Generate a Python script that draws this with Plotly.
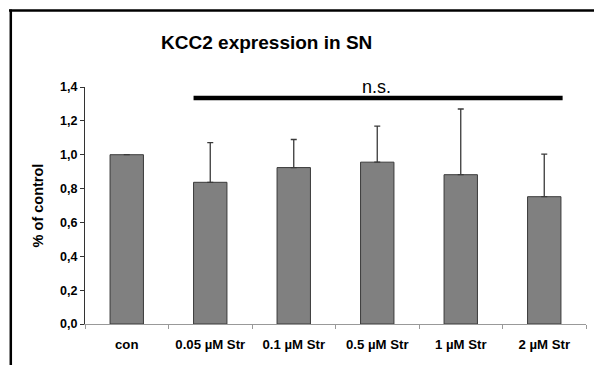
import plotly.graph_objects as go

categories = ["con", "0.05 µM Str", "0.1 µM Str", "0.5 µM Str", "1 µM Str", "2 µM Str"]
means = [1.0, 0.837, 0.924, 0.956, 0.882, 0.752]
err_plus = [0.0, 0.235, 0.166, 0.213, 0.388, 0.251]
err_minus = [0, 0, 0, 0, 0, 0]
y_ticks = [0.0, 0.2, 0.4, 0.6, 0.8, 1.0, 1.2, 1.4]
title_text = "KCC2 expression in SN"
sig_label = "n.s."
sig_level = 1.335
sig_from = 0.8
sig_to = 5.22

FONT = "Arial, Liberation Sans, sans-serif"

fig = go.Figure()
fig.add_trace(go.Bar(
    x=categories, y=means, width=0.4,
    marker=dict(color="#808080", line=dict(color="#3a3a3a", width=1)),
    error_y=dict(type="data", symmetric=False, array=err_plus, arrayminus=err_minus,
                 color="#3a3a3a", thickness=1.3, width=3),
    showlegend=False,
))

L, R, T, B = 85, 8, 87, 41
W, H = 594, 365
pw, ph = W - L - R, H - T - B

def px_x(p):
    return (p - L) / pw

def px_y(p):
    return (H - B - p) / ph

shapes = [
    dict(type="line", xref="paper", yref="paper", x0=px_x(9), x1=px_x(600),
         y0=px_y(10.5), y1=px_y(10.5), line=dict(color="black", width=2.5)),
    dict(type="line", xref="paper", yref="paper", x0=px_x(10.8), x1=px_x(10.8),
         y0=px_y(9.5), y1=px_y(370), line=dict(color="black", width=2.5)),
    dict(type="line", xref="x", yref="y", x0=sig_from, x1=sig_to,
         y0=sig_level, y1=sig_level, line=dict(color="black", width=4.5)),
]

fig.update_layout(
    width=W, height=H,
    margin=dict(l=L, r=R, t=T, b=B),
    paper_bgcolor="white", plot_bgcolor="white",
    separators=",.",
    font=dict(family=FONT, color="black"),
    title=dict(text=title_text, x=266.7 / W, xref="container", xanchor="center",
               y=1 - 42 / H, yref="container", yanchor="middle",
               font=dict(family=FONT, size=19, weight="bold", color="black")),
    shapes=shapes,
    annotations=[dict(text=sig_label, x=(sig_from + sig_to) / 2 - 0.02, y=sig_level,
                      xref="x", yref="y", xanchor="center", yanchor="bottom",
                      showarrow=False, yshift=-1,
                      font=dict(family=FONT, size=18, color="black"))],
    bargap=0.6,
)

fig.update_xaxes(
    type="category", showline=True, linecolor="#999999", linewidth=1.3,
    ticks="outside", ticklen=4, tickcolor="#999999", tickson="boundaries",
    tickfont=dict(family=FONT, size=13.2, weight="bold", color="black"),
    ticklabelstandoff=8, showgrid=False, zeroline=False, automargin=False,
)
fig.update_yaxes(
    range=[0, 1.4], tickvals=y_ticks, tickformat=".1f",
    showline=True, linecolor="#333333", linewidth=1,
    ticks="outside", ticklen=4, tickcolor="#333333",
    tickfont=dict(family=FONT, size=12.5, weight="bold", color="black"),
    showgrid=False, zeroline=False, automargin=False,
    title=dict(text="% of control", standoff=13,
               font=dict(family=FONT, size=14.5, weight="bold", color="black")),
)

fig.write_html(
    "out.html",
    config={"displayModeBar": False, "staticPlot": True},
    post_script="document.body.style.margin='0';document.body.style.overflow='hidden';",
)
